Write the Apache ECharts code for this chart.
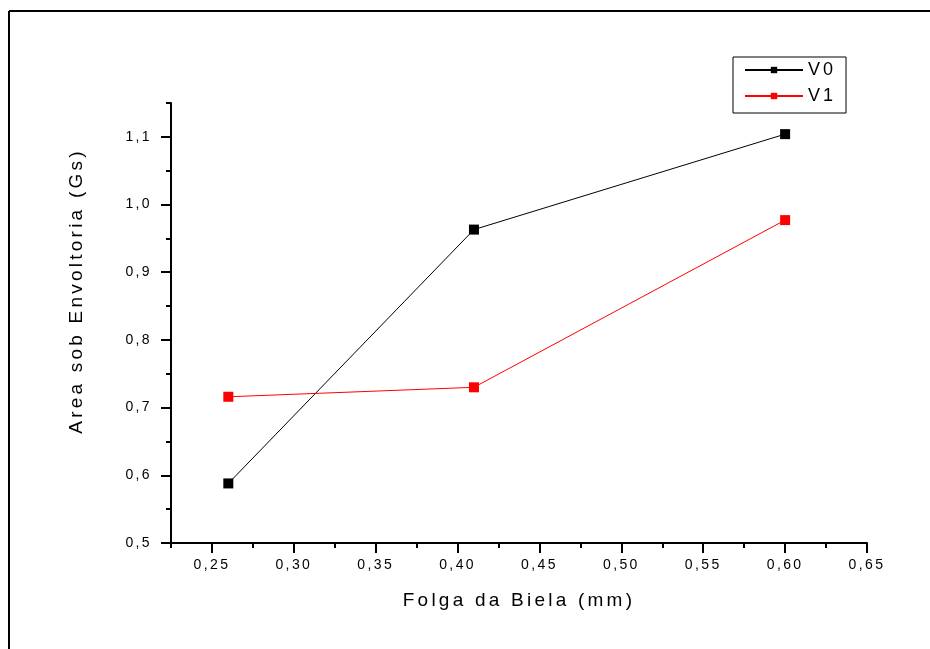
<!DOCTYPE html>
<html>
<head>
<meta charset="utf-8">
<script src="https://cdn.jsdelivr.net/npm/echarts@6/dist/echarts.min.js"></script>
<style>
html,body{margin:0;padding:0;background:#fff;}
#chart{width:930px;height:649px;}
</style>
</head>
<body>
<div id="chart"></div>
<script>
var xValues = [0.26, 0.41, 0.60];
var v0 = [0.588, 0.963, 1.104];
var v1 = [0.716, 0.730, 0.977];
var seriesNames = ['V0', 'V1'];
var xMajorTicks = [0.25, 0.30, 0.35, 0.40, 0.45, 0.50, 0.55, 0.60, 0.65];
var xMinorTicks = [0.225, 0.275, 0.325, 0.375, 0.425, 0.475, 0.525, 0.575, 0.625];
var yMajorTicks = [0.5, 0.6, 0.7, 0.8, 0.9, 1.0, 1.1];
var yMinorTicks = [0.55, 0.65, 0.75, 0.85, 0.95, 1.05, 1.15];
var xTitle = 'Folga da Biela (mm)';
var yTitle = 'Area sob Envoltoria (Gs)';

// Origin-style spaced lettering: widen glyph spacing in proportion to font size
(function () {
  var proto = CanvasRenderingContext2D.prototype;
  if (!('letterSpacing' in proto)) return;
  var orig = proto.fillText;
  proto.fillText = function (t, x, y, w) {
    var m = /(\d+(?:\.\d+)?)px/.exec(this.font || '');
    var prev = this.letterSpacing;
    if (m) this.letterSpacing = (parseFloat(m[1]) * 0.17).toFixed(2) + 'px';
    var r = w === undefined ? orig.call(this, t, x, y) : orig.call(this, t, x, y, w);
    this.letterSpacing = prev;
    return r;
  };
})();

function pairs(xs, ys) { return xs.map(function (x, i) { return [x, ys[i]]; }); }
function fmtX(v) { return v.toFixed(2).replace('.', ','); }
function fmtY(v) { return v.toFixed(1).replace('.', ','); }

var font = 'Liberation Sans, Arial, sans-serif';
var chart = echarts.init(document.getElementById('chart'), null, {renderer: 'canvas'});
var axisLine = {show: true, lineStyle: {color: '#000', width: 2}};
chart.setOption({
  animation: false,
  backgroundColor: '#fff',
  textStyle: {fontFamily: font, color: '#000'},
  grid: {left: 171, top: 103, right: 63, bottom: 106, containLabel: false},
  graphic: [
    {type: 'line', shape: {x1: 9, y1: 11, x2: 930, y2: 11}, style: {stroke: '#000', lineWidth: 2}},
    {type: 'line', shape: {x1: 9, y1: 11, x2: 9, y2: 649}, style: {stroke: '#000', lineWidth: 2}}
  ],
  legend: {
    orient: 'vertical',
    left: 733, top: 57,
    padding: [4, 16, 8, 11],
    itemGap: 8,
    itemWidth: 58, itemHeight: 8,
    borderColor: '#000', borderWidth: 1,
    textStyle: {fontFamily: font, fontSize: 18, color: '#000'},
    data: seriesNames
  },
  xAxis: [{
    type: 'value', min: 0.225, max: 0.65, position: 'bottom',
    axisLine: axisLine,
    splitLine: {show: false},
    axisTick: {show: true, inside: false, length: 10, lineStyle: {width: 2, color: '#000'}, customValues: xMajorTicks},
    axisLabel: {customValues: xMajorTicks, formatter: fmtX, fontSize: 14, color: '#000', fontFamily: font, margin: 15},
    name: xTitle, nameLocation: 'middle', nameGap: 48,
    nameTextStyle: {fontSize: 19, fontFamily: font, color: '#000'}
  }, {
    type: 'value', min: 0.225, max: 0.65, position: 'bottom',
    axisLine: {show: false},
    splitLine: {show: false},
    axisTick: {show: true, length: 5, lineStyle: {width: 2, color: '#000'}, customValues: xMinorTicks},
    axisLabel: {show: false}
  }],
  yAxis: [{
    type: 'value', min: 0.5, max: 1.15, position: 'left',
    axisLine: axisLine,
    splitLine: {show: false},
    axisTick: {show: true, length: 10, lineStyle: {width: 2, color: '#000'}, customValues: yMajorTicks},
    axisLabel: {customValues: yMajorTicks, formatter: fmtY, fontSize: 14, color: '#000', fontFamily: font, margin: 19},
    name: yTitle, nameLocation: 'middle', nameGap: 85, nameRotate: 90,
    nameTextStyle: {fontSize: 19, fontFamily: font, color: '#000', padding: [0, 0, 0, 64]}
  }, {
    type: 'value', min: 0.5, max: 1.15, position: 'left',
    axisLine: {show: false},
    splitLine: {show: false},
    axisTick: {show: true, length: 5, lineStyle: {width: 2, color: '#000'}, customValues: yMinorTicks},
    axisLabel: {show: false}
  }],
  series: [{
    name: seriesNames[0], type: 'line', xAxisIndex: 0, yAxisIndex: 0,
    data: pairs(xValues, v0),
    symbol: 'rect', symbolSize: 10,
    itemStyle: {color: '#000'},
    lineStyle: {color: '#000', width: 1}
  }, {
    name: seriesNames[1], type: 'line', xAxisIndex: 0, yAxisIndex: 0,
    data: pairs(xValues, v1),
    symbol: 'rect', symbolSize: 10,
    itemStyle: {color: '#ff0000'},
    lineStyle: {color: '#ff0000', width: 1}
  }]
});
</script>
</body>
</html>
